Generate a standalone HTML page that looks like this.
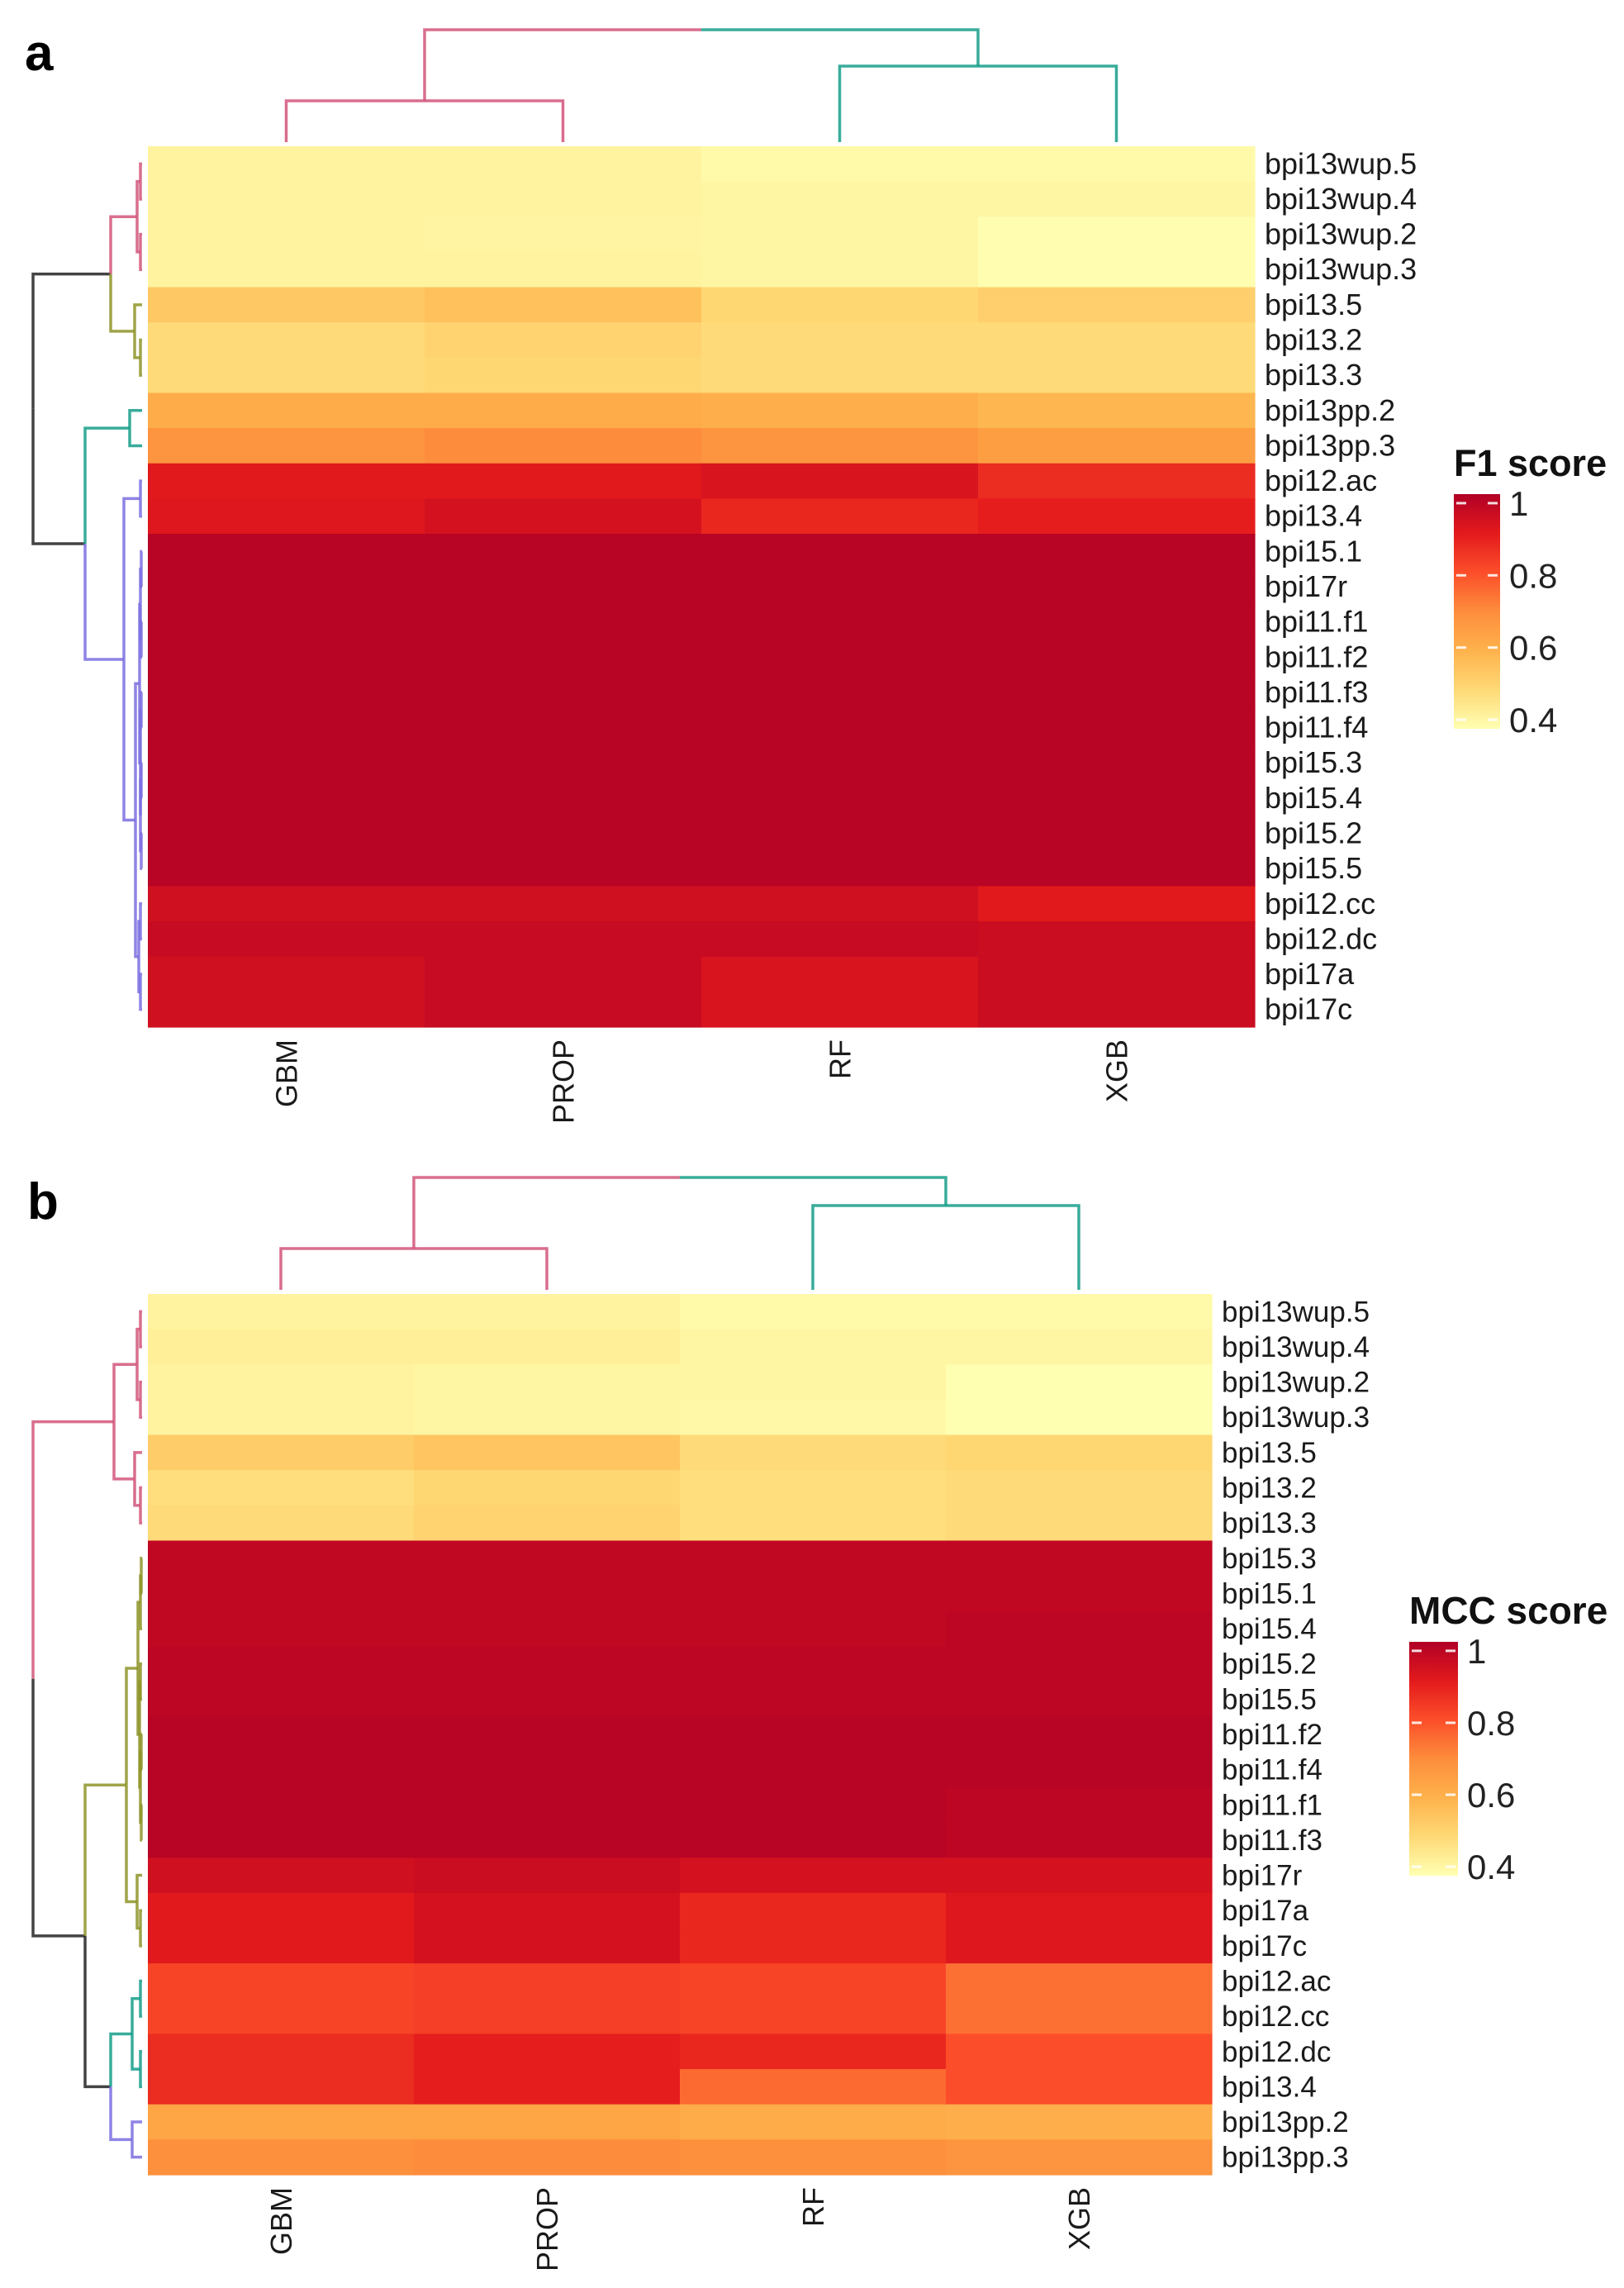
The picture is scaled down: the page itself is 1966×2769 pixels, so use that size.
<!DOCTYPE html>
<html><head><meta charset="utf-8"><style>
html,body{margin:0;padding:0;background:#fff;}
svg{display:block;font-family:"Liberation Sans",Arial,sans-serif;}
</style></head><body>
<svg id="fig" width="1966" height="2769" viewBox="0 0 1966 2769" xmlns="http://www.w3.org/2000/svg">
<defs>
<linearGradient id="gradA" x1="0" y1="1" x2="0" y2="0">
<stop offset="0" stop-color="#FFFFB2"/><stop offset="0.1667" stop-color="#FED976"/><stop offset="0.3333" stop-color="#FEB24C"/><stop offset="0.5" stop-color="#FD8D3C"/><stop offset="0.6667" stop-color="#FC4E2A"/><stop offset="0.8333" stop-color="#E31A1C"/><stop offset="1" stop-color="#B10026"/>
</linearGradient>
</defs>
<text x="30" y="85" font-size="62" font-weight="bold">a</text>
<text x="33" y="1475" font-size="62" font-weight="bold">b</text>
<g id="panelA"></g>
<g id="panelB"></g>
</svg>
<script>
const colLabels = ["GBM","PROP","RF","XGB"];
const rowsA = ["bpi13wup.5","bpi13wup.4","bpi13wup.2","bpi13wup.3","bpi13.5","bpi13.2","bpi13.3","bpi13pp.2","bpi13pp.3","bpi12.ac","bpi13.4","bpi15.1","bpi17r","bpi11.f1","bpi11.f2","bpi11.f3","bpi11.f4","bpi15.3","bpi15.4","bpi15.2","bpi15.5","bpi12.cc","bpi12.dc","bpi17a","bpi17c"];
const valsA = [
[.41,.41,.39,.39],[.41,.41,.40,.40],[.41,.405,.40,.38],[.41,.41,.40,.38],
[.53,.55,.49,.51],[.48,.50,.48,.48],[.48,.49,.48,.48],
[.61,.61,.60,.58],[.68,.70,.68,.65],
[.92,.92,.94,.88],[.93,.95,.89,.91],
[1.01,1.01,1.01,1.01],[1.01,1.01,1.01,1.01],[1.01,1.01,1.01,1.01],[1.01,1.01,1.01,1.01],[1.01,1.01,1.01,1.01],
[1.01,1.01,1.01,1.01],[1.01,1.01,1.01,1.01],[1.01,1.01,1.01,1.01],[1.01,1.01,1.01,1.01],[1.01,1.01,1.01,1.01],
[.96,.96,.96,.92],[.98,.98,.98,.97],[.96,.98,.94,.97],[.96,.98,.94,.97]];
const rowsB = ["bpi13wup.5","bpi13wup.4","bpi13wup.2","bpi13wup.3","bpi13.5","bpi13.2","bpi13.3","bpi15.3","bpi15.1","bpi15.4","bpi15.2","bpi15.5","bpi11.f2","bpi11.f4","bpi11.f1","bpi11.f3","bpi17r","bpi17a","bpi17c","bpi12.ac","bpi12.cc","bpi12.dc","bpi13.4","bpi13pp.2","bpi13pp.3"];
const valsB = [
[.41,.41,.39,.39],[.42,.42,.40,.40],[.41,.40,.40,.37],[.41,.40,.395,.37],
[.52,.54,.48,.49],[.47,.49,.47,.48],[.48,.50,.47,.48],
[.99,.99,.99,.99],[.99,.99,.99,.99],[.99,.99,.99,1.0],[1.0,1.0,1.0,1.0],[1.0,1.0,1.0,1.0],
[1.01,1.01,1.01,1.01],[1.01,1.01,1.01,1.01],[1.01,1.01,1.01,1.0],[1.01,1.01,1.01,1.0],
[.96,.97,.95,.95],[.92,.95,.89,.93],[.92,.95,.89,.93],
[.83,.84,.83,.75],[.83,.84,.83,.75],[.88,.91,.89,.81],[.88,.91,.76,.81],
[.63,.63,.61,.60],[.69,.70,.69,.68]];
// row dendrograms: [mergeHeight, left, right, clusterColor]
const rowTreeA = [132,
 [38, [6,[2,0,1],[2,2,3],"#D2557A"], [9,4,[2,5,6],"#8E9428"]],
 [69, [15,7,8,"#169D8A"],
   [22,[2,9,10],[8,[3,[2,[1,11,12],[1,13,14]],[2,[1,15,16],[2,[1,17,18],[1,19,20]]]],[4,[2,21,22],[2,23,24]]],"#7B6FE0"]]];
const rowTreeB = [132,
 [34, [6,[2,0,1],[2,2,3]], [9,4,[2,5,6]], "#D2557A"],
 [69, [19,[5,[2,[1,7,8],9],[3,[2,10,11],[2,[1,12,13],[1,14,15]]]],[6,16,[2,17,18]],"#8E9428"],
   [38,[12,[2,19,20],[2,21,22],"#169D8A"],[12,23,24,"#7B6FE0"]]]];
const colTreeA = [136,[50,0,1,"#D2557A"],[92,2,3,"#169D8A"]];
const colTreeB = [136,[50,0,1,"#D2557A"],[102,2,3,"#169D8A"]];
const legendTicks = [0.4,0.6,0.8,1];
const LO = 0.375, HI = 1.025;
const pal = ["#FFFFB2","#FED976","#FEB24C","#FD8D3C","#FC4E2A","#E31A1C","#B10026"];
function hex(c){return [1,3,5].map(i=>parseInt(c.substr(i,2),16));}
function colorOf(v){
  let t=(v-LO)/(HI-LO); t=Math.max(0,Math.min(1,t));
  const p=t*(pal.length-1), i=Math.min(pal.length-2,Math.floor(p)), f=p-i;
  const a=hex(pal[i]), b=hex(pal[i+1]);
  return "rgb("+a.map((x,k)=>Math.round(x+(b[k]-x)*f)).join(",")+")";
}
const NS="http://www.w3.org/2000/svg";
function mk(parent,tag,attrs){const e=document.createElementNS(NS,tag);for(const k in attrs)e.setAttribute(k,attrs[k]);parent.appendChild(e);return e;}

function drawPanel(g, P, rows, vals, rowTree, colTree, title){
  const nR=rows.length, nC=colLabels.length;
  const cw=(P.x1-P.x0)/nC, rh=(P.y1-P.y0)/nR;
  const xOf=c=>P.x0+c*cw, yOf=r=>P.y0+r*rh;
  for(let r=0;r<nR;r++){for(let c=0;c<nC;c++){
    const rect=mk(g,"rect",{x:xOf(c),y:yOf(r),width:cw+0.6,height:rh+0.6,fill:colorOf(vals[r][c])});
    
    
  }}
  for(let r=0;r<nR;r++){
    const t=mk(g,"text",{x:P.x1+12,y:yOf(r)+rh/2+12,"font-size":P.lfs,fill:"#1a1a1a"});
    t.textContent=rows[r];
    
    
  }
  for(let c=0;c<nC;c++){
    const cx=xOf(c)+cw/2+13, cy=P.y1+15;
    const t=mk(g,"text",{x:cx,y:cy,"font-size":36,"text-anchor":"end",transform:"rotate(-90 "+cx+" "+cy+")",fill:"#1a1a1a"});
    t.textContent=colLabels[c];
    
    
  }
  const leafX=P.x0-7;
  function layR(n){ if(typeof n==="number") return {x:leafX,y:yOf(n)+rh/2,n:n};
    const a=layR(n[1]), b=layR(n[2]); return {x:leafX-n[0],y:(a.y+b.y)/2,n:n,kids:[a,b]}; }
  function drawR(L,col){
    if(!L.kids) return;
    for(const k of L.kids){
      const kc = (typeof k.n!=="number" && k.n[3]) ? k.n[3] : col;
      const c = kc||"#222";
      const p=mk(g,"path",{d:"M"+L.x+" "+L.y+"V"+k.y+"H"+k.x,fill:"none",stroke:c,"stroke-width":3.5,"stroke-opacity":0.85});
      
      
      drawR(k,kc);
    }
  }
  drawR(layR(rowTree),null);
  const leafY=P.y0-5;
  function layC(n){ if(typeof n==="number") return {x:xOf(n)+cw/2,y:leafY,n:n};
    const a=layC(n[1]), b=layC(n[2]); return {x:(a.x+b.x)/2,y:leafY-n[0],n:n,kids:[a,b]}; }
  function drawC(L,col){
    if(!L.kids) return;
    for(const k of L.kids){
      const kc = (typeof k.n!=="number" && k.n[3]) ? k.n[3] : col;
      const c = kc||"#222";
      const p=mk(g,"path",{d:"M"+L.x+" "+L.y+"H"+k.x+"V"+k.y,fill:"none",stroke:c,"stroke-width":3.5,"stroke-opacity":0.85});
      
      
      drawC(k,kc);
    }
  }
  drawC(layC(colTree),null);
  const L=P.leg;
  const tt=mk(g,"text",{x:L.x,y:L.ty,"font-size":L.tfs,"font-weight":"bold",fill:"#111"});
  tt.textContent=title;
  
  
  const yV=v=>L.y0+(HI-v)/(HI-LO)*(L.y1-L.y0);
  const bar=mk(g,"rect",{x:L.x,y:L.y0,width:L.w,height:L.y1-L.y0,fill:"url(#gradA)"});
  
  
  for(const v of legendTicks){
    const y=yV(v);
    mk(g,"line",{x1:L.x+3,x2:L.x+15,y1:y,y2:y,stroke:"#fff","stroke-width":3,"stroke-opacity":0.85});
    mk(g,"line",{x1:L.x+L.w-15,x2:L.x+L.w-3,y1:y,y2:y,stroke:"#fff","stroke-width":3,"stroke-opacity":0.85});
    const t=mk(g,"text",{x:L.x+L.w+11,y:y+15,"font-size":42,fill:"#222"});
    t.textContent=String(v);
    
    
  }
}
drawPanel(document.getElementById("panelA"),
  {x0:179,x1:1519,y0:177,y1:1243,lfs:36,leg:{x:1760,w:56,y0:598,y1:882,ty:576,tfs:45}},
  rowsA,valsA,rowTreeA,colTreeA,"F1 score");
drawPanel(document.getElementById("panelB"),
  {x0:179,x1:1467,y0:1566,y1:2632,lfs:35,leg:{x:1706,w:59,y0:1987,y1:2270,ty:1965,tfs:46}},
  rowsB,valsB,rowTreeB,colTreeB,"MCC score");
</script>
</body></html>
